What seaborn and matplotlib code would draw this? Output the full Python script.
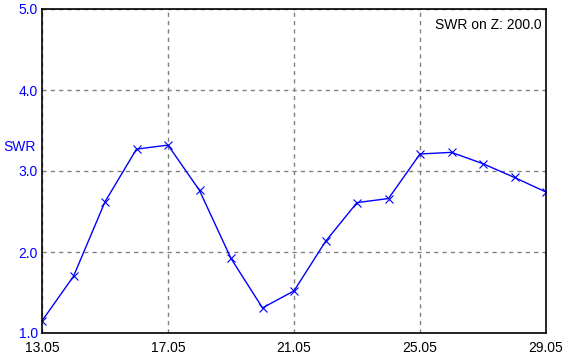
import matplotlib
matplotlib.use("Agg")
import matplotlib.pyplot as plt
import seaborn as sns
import pandas as pd

freq = [13.05, 14.05, 15.05, 16.05, 17.05, 18.05, 19.05, 20.05, 21.05,
        22.05, 23.05, 24.05, 25.05, 26.05, 27.05, 28.05, 29.05]
swr = [1.15, 1.70, 2.62, 3.27, 3.32, 2.76, 1.92, 1.31, 1.52,
       2.13, 2.61, 2.66, 3.21, 3.23, 3.09, 2.92, 2.74]
x_ticks = [13.05, 17.05, 21.05, 25.05, 29.05]
x_tick_labels = ["13.05", "17.05", "21.05", "25.05", "29.05"]
y_ticks = [1.0, 2.0, 3.0, 4.0, 5.0]
y_tick_labels = ["1.0", "2.0", "3.0", "4.0", "5.0"]

df = pd.DataFrame({"freq": freq, "swr": swr})

sns.set_style("white")
plt.rcParams["font.family"] = ["Liberation Sans", "DejaVu Sans"]

fig = plt.figure(figsize=(5.68, 3.58), dpi=100)
ax = fig.add_axes([42 / 568, 1 - 333 / 358, (546 - 42) / 568, (333 - 9) / 358])

sns.lineplot(data=df, x="freq", y="swr", ax=ax, color="#0000ff", linewidth=1,
             marker="x", markersize=6, markeredgewidth=0.8, markeredgecolor="#0000ff")

ax.set_xlim(13.05, 29.05)
ax.set_ylim(1.0, 5.0)
ax.set_xticks(x_ticks)
ax.set_xticklabels(x_tick_labels, color="black", fontsize=10)
ax.set_yticks(y_ticks)
ax.set_yticklabels(y_tick_labels, color="#0000ff", fontsize=10)
ax.tick_params(axis="x", length=0, pad=6)
ax.tick_params(axis="y", length=0, pad=3)
ax.set_xlabel("")
ax.set_ylabel("")

ax.grid(True, color="#808080", linestyle=(0, (3, 3)), linewidth=1)
for s in ax.spines.values():
    s.set_visible(True)
    s.set_color("black")
    s.set_linewidth(1.2)

fig.text(3 / 568, 1 - 147 / 358, "SWR", color="#0000ff", fontsize=10, ha="left", va="center")
ax.text(0.992, 0.95, "SWR on Z: 200.0", transform=ax.transAxes, ha="right", va="center",
        color="black", fontsize=10)

fig.savefig("out.png", dpi=100)
